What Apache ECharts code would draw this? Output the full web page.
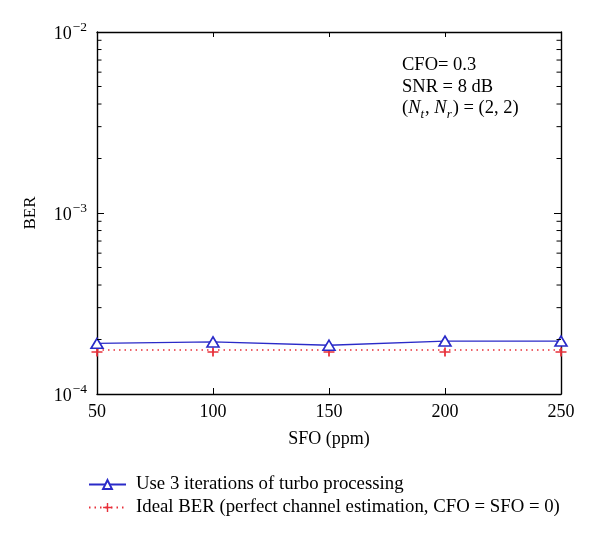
<!DOCTYPE html>
<html>
<head>
<meta charset="utf-8">
<script src="https://cdn.jsdelivr.net/npm/echarts@6/dist/echarts.min.js"></script>
<style>html,body{margin:0;padding:0;background:#fff}#c{width:600px;height:538px}</style>
</head>
<body>
<div id="c"></div>
<script>
const sfo = [50, 100, 150, 200, 250];
const turbo = [1.905e-4, 1.94e-4, 1.86e-4, 1.96e-4, 1.96e-4];
const ideal = [1.75e-4, 1.75e-4, 1.75e-4, 1.75e-4, 1.75e-4];
const xTicks = [50, 100, 150, 200, 250];
const yMajor = [1e-4, 1e-3, 1e-2];
const yExp = ['−4', '−3', '−2'];
const yMinor = [2e-4,3e-4,4e-4,5e-4,6e-4,7e-4,8e-4,9e-4,2e-3,3e-3,4e-3,5e-3,6e-3,7e-3,8e-3,9e-3];
const seriesNames = ['Use 3 iterations of turbo processing', 'Ideal BER (perfect channel estimation, CFO = SFO = 0)'];

const FONT = '"Liberation Serif", "DejaVu Serif", serif';
const chart = echarts.init(document.getElementById('c'), null, {renderer: 'canvas'});
const plusPath = 'path://M4.2,0 L5.8,0 L5.8,4.2 L10,4.2 L10,5.8 L5.8,5.8 L5.8,10 L4.2,10 L4.2,5.8 L0,5.8 L0,4.2 L4.2,4.2 Z';

chart.setOption({
  animation: false,
  backgroundColor: '#fff',
  grid: {left: 97, right: 39, top: 32, bottom: 144, containLabel: false},
  xAxis: [{
    type: 'value', min: xTicks[0], max: xTicks[xTicks.length - 1], interval: 50,
    name: 'SFO (ppm)', nameLocation: 'middle', nameGap: 36,
    nameTextStyle: {fontFamily: FONT, fontSize: 18, color: '#000'},
    axisLine: {lineStyle: {color: '#000', width: 1.4}},
    axisTick: {inside: true, length: 6, lineStyle: {color: '#000'}},
    axisLabel: {fontFamily: FONT, fontSize: 18, color: '#000', margin: 9},
    splitLine: {show: false}
  }, {
    type: 'value', position: 'top', min: xTicks[0], max: xTicks[xTicks.length - 1], interval: 50,
    axisLine: {lineStyle: {color: '#000', width: 1.4}},
    axisTick: {inside: true, length: 5, lineStyle: {color: '#000'}},
    axisLabel: {show: false}, splitLine: {show: false}
  }],
  yAxis: [{
    type: 'log', logBase: 10, min: yMajor[0], max: yMajor[yMajor.length - 1],
    name: 'BER', nameLocation: 'middle', nameGap: 58, nameRotate: 90,
    nameTextStyle: {fontFamily: FONT, fontSize: 17, color: '#000'},
    axisLine: {lineStyle: {color: '#000', width: 1.4}},
    axisTick: {inside: true, length: 7, lineStyle: {color: '#000'}},
    axisLabel: {
      margin: 10,
      formatter: function (v) {
        const i = yMajor.findIndex(t => Math.abs(Math.log10(t) - Math.log10(v)) < 1e-6);
        return i < 0 ? '' : '{b|10}{s|' + yExp[i] + '}';
      },
      rich: {
        b: {fontFamily: FONT, fontSize: 18, color: '#000', verticalAlign: 'bottom', lineHeight: 20},
        s: {fontFamily: FONT, fontSize: 13.5, color: '#000', verticalAlign: 'bottom', padding: [0, 0, 9, 1]}
      }
    },
    splitLine: {show: false}
  }, {
    type: 'log', logBase: 10, position: 'right', min: yMajor[0], max: yMajor[yMajor.length - 1],
    axisLine: {lineStyle: {color: '#000', width: 1.4}},
    axisTick: {inside: true, length: 7, lineStyle: {color: '#000'}},
    axisLabel: {show: false}, splitLine: {show: false}
  }],
  legend: {
    data: seriesNames, orient: 'vertical', left: 88, top: 475, itemGap: 4, padding: 0,
    itemWidth: 37, itemHeight: 11,
    textStyle: {fontFamily: FONT, fontSize: 18.8, color: '#000', padding: [0, 0, 0, 5]}
  },
  graphic: [{
    type: 'text', left: 402, top: 56,
    style: {text: 'CFO= 0.3', fontFamily: FONT, fontSize: 18.5, fill: '#000'}
  }, {
    type: 'text', left: 402, top: 78,
    style: {text: 'SNR = 8 dB', fontFamily: FONT, fontSize: 18.5, fill: '#000'}
  }, {
    type: 'text', left: 402, top: 99,
    style: {
      text: '{i|(}{n|N}{sub|t}{i|, }{n|N}{sub|r}{i|) = (2, 2)}',
      rich: {
        i: {fontFamily: FONT, fontSize: 18.5, fill: '#000', verticalAlign: 'top', lineHeight: 21},
        n: {fontFamily: FONT, fontSize: 18.5, fontStyle: 'italic', fill: '#000', verticalAlign: 'top', lineHeight: 21},
        sub: {fontFamily: FONT, fontSize: 13, fontStyle: 'italic', fill: '#000', verticalAlign: 'top', padding: [9, 1, 0, 0], lineHeight: 13}
      }
    }
  }],
  series: [{
    name: seriesNames[0], type: 'line',
    data: sfo.map((x, i) => [x, turbo[i]]),
    symbol: 'triangle', symbolSize: [12, 10], showAllSymbol: true,
    lineStyle: {color: '#2a2ac8', width: 1.4},
    itemStyle: {color: '#fff', borderColor: '#2a2ac8', borderWidth: 1.6},
    emphasis: {disabled: true}, z: 5
  }, {
    name: seriesNames[1], type: 'line',
    data: sfo.map((x, i) => [x, ideal[i]]),
    symbol: plusPath, symbolSize: [11, 9], symbolOffset: [0, 2], showAllSymbol: true,
    lineStyle: {color: '#e8303a', width: 1.3, type: [1.5, 4]},
    itemStyle: {color: '#e8303a'},
    emphasis: {disabled: true}, z: 4
  }, {
    name: 'minorTicks', type: 'custom', silent: true, z: 6,
    data: yMinor.map(v => [v]),
    renderItem: function (params, api) {
      const v = api.value(0);
      const L = api.coord([xTicks[0], v]);
      const R = api.coord([xTicks[xTicks.length - 1], v]);
      return {type: 'group', children: [
        {type: 'line', shape: {x1: L[0], y1: L[1], x2: L[0] + 4.5, y2: L[1]}, style: {stroke: '#000', lineWidth: 1}},
        {type: 'line', shape: {x1: R[0], y1: R[1], x2: R[0] - 4.5, y2: R[1]}, style: {stroke: '#000', lineWidth: 1}}
      ]};
    }
  }]
});
</script>
</body>
</html>
